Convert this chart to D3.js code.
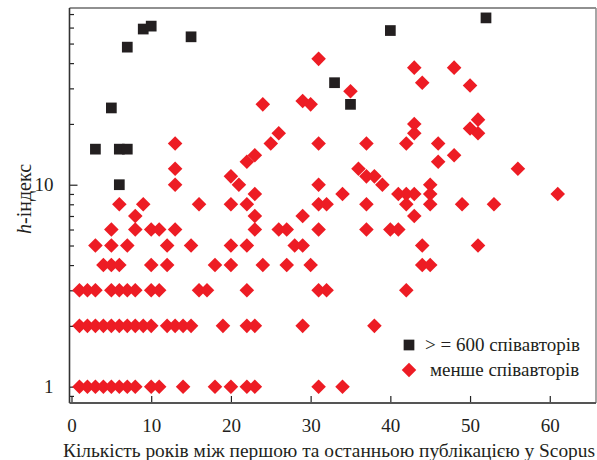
<!DOCTYPE html>
<html>
<head>
<meta charset="utf-8">
<script src="https://cdn.jsdelivr.net/npm/d3@7"></script>
<style>
  body { margin: 0; background: #fff; }
  svg, svg text { font-family: "Liberation Serif", "Times New Roman", Tinos, "DejaVu Serif", serif; }
</style>
</head>
<body>
<div id="chart"></div>
<script>
// 0. Size of the picture and of the plot box
const width = 597;
const height = 460;
const plot = { left: 69.5, right: 596, top: 8, bottom: 403 };
const serif = '"Liberation Serif", "Times New Roman", Tinos, "DejaVu Serif", serif';

// Series ">= 600 co-authors" (years, h-index)
const bigYears = [3, 5, 6, 7, 6, 7, 9, 10, 15, 40, 52, 33, 35];
const bigH = [15, 24, 15, 15, 10, 48, 59, 61, 54, 58, 67, 32, 25];

// Series "fewer co-authors" (years, h-index)
const smallYears = [
  1, 2, 3, 4, 5, 6, 7, 8, 10, 11, 14, 18, 20, 22, 23, 31, 34,
  1, 2, 3, 4, 5, 6, 7, 8, 9, 10, 12, 13, 14, 15, 19, 22, 23, 29, 38,
  1, 2, 3, 5, 6, 7, 8, 10, 11, 16, 17, 22, 31, 32, 42,
  4, 5, 6, 10, 12, 18, 20, 24, 27, 30, 44, 45,
  3, 5, 7, 12, 15, 20, 22, 28, 29, 44, 51,
  5, 8, 10, 11, 13, 23, 26, 27, 31, 37, 40, 41,
  8, 23, 29, 43,
  6, 9, 16, 20, 22, 31, 32, 37, 42, 45, 49, 53,
  23, 34, 41, 42, 43, 45, 61,
  13, 21, 31, 39, 45,
  20, 37, 38,
  13, 36, 56,
  22, 46,
  23, 48,
  13, 25, 31, 37, 42, 46,
  26, 43, 51,
  50, 43, 51,
  24, 30, 29, 35, 50, 44,
  43, 48, 31,
];
const smallH = [
  1, 1, 1, 1, 1, 1, 1, 1, 1, 1, 1, 1, 1, 1, 1, 1, 1,
  2, 2, 2, 2, 2, 2, 2, 2, 2, 2, 2, 2, 2, 2, 2, 2, 2, 2, 2,
  3, 3, 3, 3, 3, 3, 3, 3, 3, 3, 3, 3, 3, 3, 3,
  4, 4, 4, 4, 4, 4, 4, 4, 4, 4, 4, 4,
  5, 5, 5, 5, 5, 5, 5, 5, 5, 5, 5,
  6, 6, 6, 6, 6, 6, 6, 6, 6, 6, 6, 6,
  7, 7, 7, 7,
  8, 8, 8, 8, 8, 8, 8, 8, 8, 8, 8, 8,
  9, 9, 9, 9, 9, 9, 9,
  10, 10, 10, 10, 10,
  11, 11, 11,
  12, 12, 12,
  13, 13,
  14, 14,
  16, 16, 16, 16, 16, 16,
  18, 18, 18,
  19, 20, 21,
  25, 25, 26, 29, 31, 32,
  38, 38, 42,
];

// Tick values
const xTicks = [0, 10, 20, 30, 40, 50, 60];
const yMajor = [1, 10];
const yMinor = [0.9, 2, 3, 4, 5, 6, 7, 8, 9, 20, 30, 40, 50, 60, 70];

const legendLabels = ["> = 600 співавторів", "менше співавторів"];
const xTitle = "Кількість років між першою та останньою публікацією у Scopus";

const red = "#ed1c24";
const dark = "#231f20";

// 1. Scales
const x = d3.scaleLinear().domain([-0.25, 65.8]).range([plot.left, plot.right]);
const y = d3.scaleLog().domain([0.83, 75]).range([plot.bottom, plot.top]);

const svg = d3
  .select("#chart")
  .append("svg")
  .attr("width", width)
  .attr("height", height)
  .attr("font-family", serif);

// 2. Axes (ticks point into the plot)
const yAxisMinor = svg
  .append("g")
  .attr("transform", `translate(${plot.left},0)`)
  .call(d3.axisLeft(y).tickValues(yMinor).tickSize(-4.5).tickFormat(""));

const yAxis = svg
  .append("g")
  .attr("transform", `translate(${plot.left},0)`)
  .call(d3.axisLeft(y).tickValues(yMajor).tickSize(-8).tickPadding(16).tickFormat(d3.format("d")));

const xAxis = svg
  .append("g")
  .attr("transform", `translate(0,${plot.bottom})`)
  .call(d3.axisBottom(x).tickValues(xTicks).tickSize(-7).tickPadding(16).tickFormat(d3.format("d")));

[yAxisMinor, yAxis, xAxis].forEach((g) => {
  g.attr("font-family", serif).attr("font-size", 19);
  g.select(".domain").remove();
  g.selectAll("line").attr("stroke", "#222").attr("stroke-width", 1.2);
  g.selectAll("text").attr("fill", "#231f20");
});

// 3. Frame
svg.append("line")
  .attr("x1", plot.left).attr("x2", plot.right)
  .attr("y1", plot.top).attr("y2", plot.top)
  .attr("stroke", "#222").attr("stroke-width", 1.2);
svg.append("line")
  .attr("x1", plot.right).attr("x2", plot.right)
  .attr("y1", plot.top).attr("y2", plot.bottom)
  .attr("stroke", "#888").attr("stroke-width", 1.5);
svg.append("line")
  .attr("x1", plot.left).attr("x2", plot.left)
  .attr("y1", plot.top).attr("y2", plot.bottom)
  .attr("stroke", "#333").attr("stroke-width", 1.6);
svg.append("line")
  .attr("x1", plot.left).attr("x2", plot.right)
  .attr("y1", plot.bottom).attr("y2", plot.bottom)
  .attr("stroke", "#555").attr("stroke-width", 1.8);

// 4. Points
const square = d3.symbol().type(d3.symbolSquare).size(115);
const diamond = d3.symbol().type(d3.symbolSquare).size(106);

const smallData = smallYears.map((v, i) => ({ x: v, h: smallH[i] }));
const bigData = bigYears.map((v, i) => ({ x: v, h: bigH[i] }));

svg
  .selectAll(".small")
  .data(smallData)
  .enter()
  .append("path")
  .attr("class", "small")
  .attr("d", diamond)
  .attr("transform", (d) => `translate(${x(d.x)},${y(d.h)}) rotate(45)`)
  .attr("fill", red);

svg
  .selectAll(".big")
  .data(bigData)
  .enter()
  .append("path")
  .attr("class", "big")
  .attr("d", square)
  .attr("transform", (d) => `translate(${x(d.x)},${y(d.h)})`)
  .attr("fill", dark);

// 5. Legend
const legend = svg.append("g").attr("transform", "translate(409,345)");
legend.append("path").attr("d", square).attr("fill", dark);
legend.append("path").attr("d", diamond).attr("transform", "translate(0,25) rotate(45)").attr("fill", red);
legend
  .selectAll("text")
  .data(legendLabels)
  .enter()
  .append("text")
  .attr("x", (d, i) => (i === 0 ? 16 : 21))
  .attr("y", (d, i) => i * 25 + 6)
  .attr("font-size", 19)
  .attr("fill", "#231f20")
  .text((d) => d);

// 6. Axis titles
svg
  .append("text")
  .attr("x", 63)
  .attr("y", 457)
  .attr("font-size", 19.4)
  .attr("fill", "#231f20")
  .text(xTitle);

const yTitle = svg
  .append("text")
  .attr("transform", "translate(31,199) rotate(-90)")
  .attr("text-anchor", "middle")
  .attr("font-size", 20)
  .attr("fill", "#231f20");
yTitle.append("tspan").attr("font-style", "italic").text("h");
yTitle.append("tspan").text("-індекс");
</script>
</body>
</html>
